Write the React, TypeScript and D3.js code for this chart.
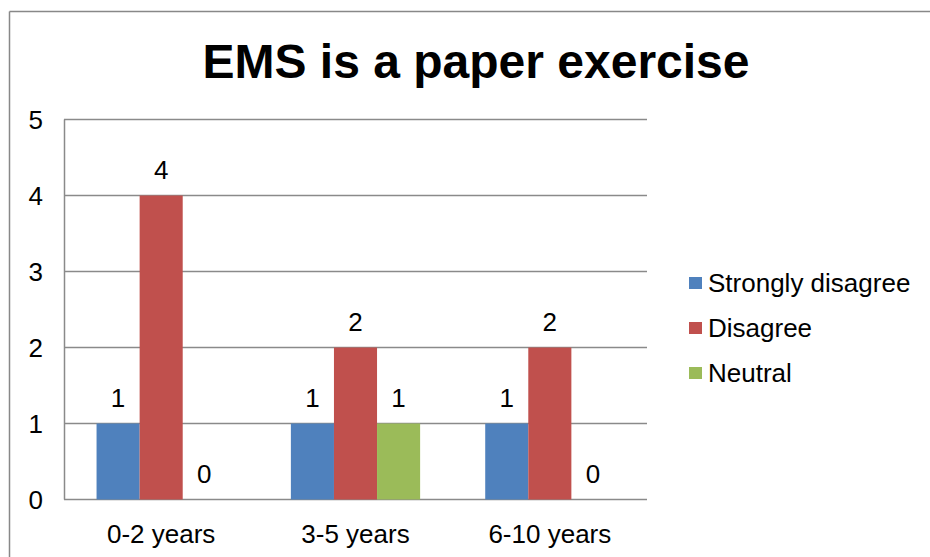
import React from "react";
import * as d3 from "d3";

const categories = ["0-2 years", "3-5 years", "6-10 years"];
const seriesNames = ["Strongly disagree", "Disagree", "Neutral"];
const stronglyDisagree = [1, 1, 1];
const disagree = [4, 2, 2];
const neutral = [0, 1, 0];
const yTicks = [0, 1, 2, 3, 4, 5];
const seriesColors = ["#4F81BD", "#C0504D", "#9BBB59"];
const title = "EMS is a paper exercise";

export default function App() {
  const W = 930;
  const H = 557;
  const plotLeft = 64;
  const plotRight = 647;
  const seriesValues = [stronglyDisagree, disagree, neutral];

  const y = d3.scaleLinear().domain([0, 5]).range([499.5, 119.5]);
  const x = d3.scaleBand<string>().domain(categories).range([plotLeft, plotRight]).padding(0);
  const bw = x.bandwidth();
  const gap = bw * 0.1675;
  const xs = d3.scaleBand<string>().domain(seriesNames).range([gap, bw - gap]).padding(0);

  const font = "'Liberation Sans', Arial, Helvetica, sans-serif";

  return (
    <svg
      width={W}
      height={H}
      style={{ position: "absolute", left: 0, top: 0, background: "#fff" }}
      fontFamily={font}
    >
      <rect x={0} y={0} width={W} height={H} fill="#fff" />
      {/* outer frame */}
      <line x1={9.5} y1={11.5} x2={W} y2={11.5} stroke="#888" strokeWidth={1.5} />
      <line x1={9.5} y1={11.5} x2={9.5} y2={H} stroke="#888" strokeWidth={1.5} />

      <text x={476} y={78} textAnchor="middle" fontSize={48} fontWeight="bold" fill="#000">
        {title}
      </text>

      {/* gridlines */}
      {yTicks.map((t) => (
        <line key={"g" + t} x1={plotLeft} x2={plotRight} y1={y(t)} y2={y(t)} stroke="#8a8a8a" strokeWidth={1.5} />
      ))}
      <line x1={plotLeft + 0.5} x2={plotLeft + 0.5} y1={y(5)} y2={y(0)} stroke="#8a8a8a" strokeWidth={1.5} />

      {/* y tick labels */}
      {yTicks.map((t) => (
        <text key={"t" + t} x={43} y={y(t) + 9} textAnchor="end" fontSize={26} fill="#000">
          {t}
        </text>
      ))}

      {/* bars */}
      {categories.map((c, ci) => (
        <g key={c}>
          {seriesNames.map((s, si) => {
            const v = seriesValues[si][ci];
            const bx = (x(c) as number) + (xs(s) as number);
            const w = xs.bandwidth();
            return (
              <g key={s}>
                {v > 0 && (
                  <rect x={bx} y={y(v)} width={w} height={y(0) - y(v)} fill={seriesColors[si]} />
                )}
                <text x={bx + w / 2} y={y(v) - 17} textAnchor="middle" fontSize={26} fill="#000">
                  {v}
                </text>
              </g>
            );
          })}
          <text x={(x(c) as number) + bw / 2} y={543} textAnchor="middle" fontSize={26} fill="#000">
            {c}
          </text>
        </g>
      ))}

      {/* legend */}
      {seriesNames.map((s, i) => {
        const cy = 283 + i * 45;
        return (
          <g key={"l" + s}>
            <rect x={689} y={cy - 6} width={13} height={12} fill={seriesColors[i]} />
            <text x={708} y={cy + 9} fontSize={26} fill="#000">
              {s}
            </text>
          </g>
        );
      })}
    </svg>
  );
}
